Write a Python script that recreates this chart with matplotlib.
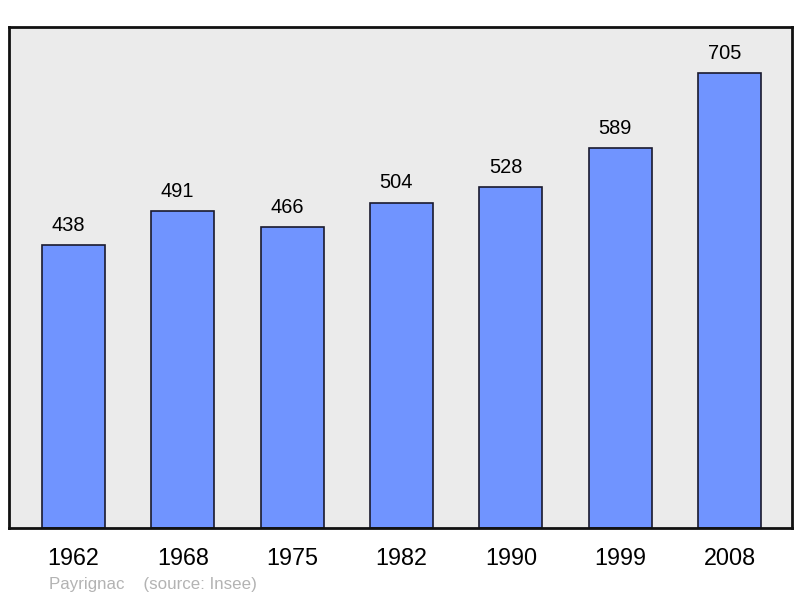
import matplotlib
matplotlib.use("Agg")
import matplotlib.pyplot as plt

years = ["1962", "1968", "1975", "1982", "1990", "1999", "2008"]
population = [438, 491, 466, 504, 528, 589, 705]

plt.rcParams['font.family'] = ['Liberation Sans', 'DejaVu Sans']

fig = plt.figure(figsize=(8, 5.98), dpi=100)
ax = fig.add_axes([9/800, 1 - 528/598, 783/800, 501/598])
ax.set_facecolor('#ebebeb')

x = list(range(len(years)))
bars = ax.bar(x, population, width=0.576, color='#7094ff', edgecolor='#1a1a2e', linewidth=1.2, zorder=2)
for xi, v in zip(x, population):
    ax.annotate(str(v), (xi, v), xytext=(-3.8, 7.3), textcoords='offset points',
                ha='center', va='bottom', fontsize=14.4, color='black')

ax.set_xlim(-0.59, 6.57)
ax.set_ylim(0, 776)
ax.set_yticks([])
ax.set_xticks(x)
ax.set_xticklabels(years, fontsize=16.8)
ax.tick_params(axis='x', length=0, pad=14)
for s in ax.spines.values():
    s.set_linewidth(2)
    s.set_color('#111111')

fig.text(49/800, 1 - 585/598, "Payrignac    (source: Insee)", fontsize=12.2, color='#b3b3b3', va='center', ha='left')

fig.savefig("out.png", dpi=100, facecolor='white')
